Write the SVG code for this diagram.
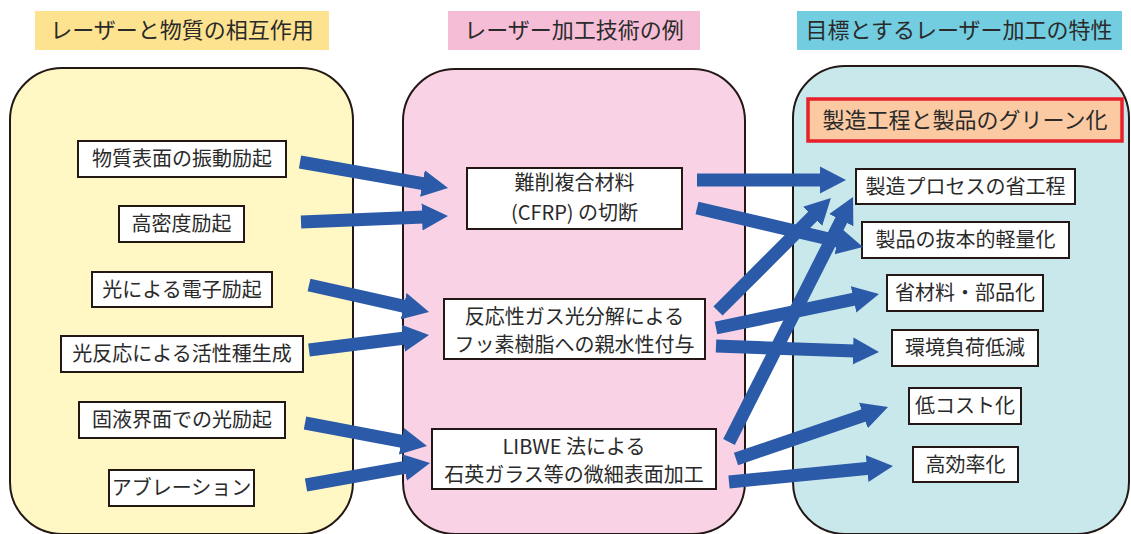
<svg xmlns="http://www.w3.org/2000/svg" width="1131" height="534" viewBox="0 0 1131 534">
<defs>
<style>
text{font-family:"Noto Sans CJK JP","Noto Sans",sans-serif;fill:#2a2a2a;text-anchor:middle}
.h{font-size:22px}
.t{font-size:20px}
.panel{stroke:#231815;stroke-width:2}
.box{fill:#fff;stroke:#231815;stroke-width:2}
.arr line{stroke:#2b5aa8;stroke-width:13;marker-end:url(#ah)}
</style>
<marker id="ah" viewBox="0 -14 26 28" refX="2" refY="0" markerWidth="26" markerHeight="28" markerUnits="userSpaceOnUse" orient="auto">
<path d="M0,-13.5 L26,0 L0,13.5 z" fill="#2b5aa8"/>
</marker>
</defs>
<rect width="1131" height="534" fill="#fff"/>
<g id="panel-left">
<rect class="panel" x="10" y="68" width="343" height="466" rx="52" fill="#fff8c4"/>
<rect x="35" y="11" width="294" height="39" fill="#fde28f"/>
<text class="h" x="182" y="38">レーザーと物質の相互作用</text>
</g>
<g id="panel-mid">
<rect class="panel" x="403" y="69" width="342" height="465" rx="52" fill="#f9d3e5"/>
<rect x="448" y="11" width="252" height="39" fill="#f5bdd6"/>
<text class="h" x="574" y="38">レーザー加工技術の例</text>
</g>
<g id="panel-right">
<rect class="panel" x="793" y="66" width="336" height="468" rx="52" fill="#c8e8ec"/>
<rect x="797" y="11" width="325" height="39" fill="#72cde0"/>
<text class="h" x="959" y="38">目標とするレーザー加工の特性</text>
</g>
<g id="green">
<rect x="808" y="99" width="314" height="42" fill="#fbcaa3" stroke="#e8202a" stroke-width="3.5"/>
<text class="h" x="965" y="128">製造工程と製品のグリーン化</text>
</g>
<g id="l1"><rect class="box" x="78" y="141" width="208" height="36"/><text class="t" x="182" y="166">物質表面の振動励起</text></g>
<g id="l2"><rect class="box" x="119" y="206" width="125" height="36"/><text class="t" x="181.5" y="231">高密度励起</text></g>
<g id="l3"><rect class="box" x="92" y="272" width="180" height="35"/><text class="t" x="182" y="296.5">光による電子励起</text></g>
<g id="l4"><rect class="box" x="61" y="336" width="242" height="36"/><text class="t" x="182" y="361">光反応による活性種生成</text></g>
<g id="l5"><rect class="box" x="79" y="402" width="206" height="36"/><text class="t" x="182" y="427">固液界面での光励起</text></g>
<g id="l6"><rect class="box" x="109" y="470" width="145" height="36"/><text class="t" x="181.5" y="495">アブレーション</text></g>
<g id="m1"><rect class="box" x="467" y="168" width="215" height="61"/><text class="t" x="574.5" y="190">難削複合材料</text><text class="t" x="574.5" y="220">(CFRP) の切断</text></g>
<g id="m2"><rect class="box" x="444" y="299" width="261" height="60"/><text class="t" x="574.5" y="324">反応性ガス光分解による</text><text class="t" x="574.5" y="352">フッ素樹脂への親水性付与</text></g>
<g id="m3"><rect class="box" x="432" y="429" width="284" height="60"/><text class="t" x="574" y="454">LIBWE 法による</text><text class="t" x="574" y="482">石英ガラス等の微細表面加工</text></g>
<g id="r1"><rect class="box" x="856" y="169" width="219" height="35"/><text class="t" x="965.5" y="193.5">製造プロセスの省工程</text></g>
<g id="r2"><rect class="box" x="862" y="222" width="207" height="36"/><text class="t" x="965.5" y="247">製品の抜本的軽量化</text></g>
<g id="r3"><rect class="box" x="887" y="275" width="156" height="36"/><text class="t" x="965" y="300">省材料・部品化</text></g>
<g id="r4"><rect class="box" x="892" y="330" width="146" height="36"/><text class="t" x="965" y="355">環境負荷低減</text></g>
<g id="r5"><rect class="box" x="909" y="388" width="112" height="36"/><text class="t" x="965" y="413">低コスト化</text></g>
<g id="r6"><rect class="box" x="913" y="447" width="105" height="35"/><text class="t" x="965.5" y="471.5">高効率化</text></g>
<g id="connectors" class="arr">
<line x1="300" y1="162" x2="424.4" y2="183.8"/>
<line x1="301" y1="222" x2="424" y2="217"/>
<line x1="309" y1="285" x2="405.6" y2="306.7"/>
<line x1="309" y1="350" x2="405.2" y2="338"/>
<line x1="305" y1="423" x2="403.4" y2="441.6"/>
<line x1="306" y1="485" x2="406.4" y2="467.2"/>
<line x1="697" y1="180" x2="822" y2="180"/>
<line x1="697" y1="208" x2="839.6" y2="241.5"/>
<line x1="718" y1="311" x2="814" y2="215"/>
<line x1="716" y1="328" x2="855.5" y2="298.9"/>
<line x1="716" y1="346" x2="855" y2="351.1"/>
<line x1="736" y1="459" x2="865.3" y2="414.8"/>
<line x1="729" y1="482" x2="869.1" y2="468.3"/>
<line x1="729" y1="442" x2="842.2" y2="218.4"/>
</g>
</svg>
